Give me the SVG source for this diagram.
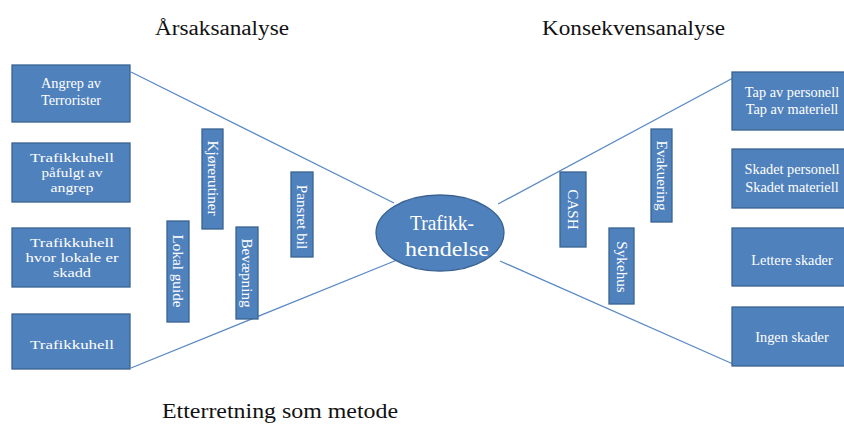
<svg xmlns="http://www.w3.org/2000/svg" width="844" height="424" viewBox="0 0 844 424">
<style>
.box{fill:#4f81bd;stroke:#3a6391;stroke-width:1.3}
.t{font-family:"Liberation Serif","Times New Roman",serif;font-size:14.3px;fill:#fff;text-anchor:middle}
.tl{font-family:"Liberation Serif","Times New Roman",serif;font-size:13.5px;fill:#fff;text-anchor:middle}
.tv{font-family:"Liberation Serif","Times New Roman",serif;font-size:15.2px;fill:#fff;text-anchor:middle}
.title{font-family:"Liberation Serif",serif;font-size:20px;fill:#111}
.line{stroke:#5b8ac4;stroke-width:1.3;fill:none}
.et{font-family:"Liberation Serif",serif;font-size:22px;fill:#fff;text-anchor:middle}
</style>
<rect width="844" height="424" fill="#fff"/>
<text class="title" x="155" y="35" textLength="134" lengthAdjust="spacingAndGlyphs">Årsaksanalyse</text>
<text class="title" x="542" y="35" textLength="183" lengthAdjust="spacingAndGlyphs">Konsekvensanalyse</text>
<text class="title" x="162" y="418" textLength="236" lengthAdjust="spacingAndGlyphs">Etterretning som metode</text>
<g id="connectors">
<line class="line" x1="131" y1="72" x2="394" y2="203"/>
<line class="line" x1="131" y1="368" x2="397" y2="260"/>
<line class="line" x1="498" y1="204" x2="733" y2="78"/>
<line class="line" x1="500" y1="261" x2="733" y2="364"/>
</g>
<g id="center">
<ellipse cx="440" cy="233" rx="64" ry="38" fill="#4f81bd" stroke="#3a6391" stroke-width="1.3"/>
<text class="et" x="442" y="230" textLength="64" lengthAdjust="spacingAndGlyphs">Trafikk-</text>
<text class="et" x="447" y="256" textLength="84" lengthAdjust="spacingAndGlyphs">hendelse</text>
</g>
<g id="l1"><rect class="box" x="12" y="65" width="118" height="57"/><text class="t" x="71" y="88">Angrep av</text><text class="t" x="71" y="105">Terrorister</text></g>
<g id="l2"><rect class="box" x="12" y="143" width="118" height="59"/><text class="tl" x="72" y="162" textLength="84" lengthAdjust="spacingAndGlyphs">Trafikkuhell</text><text class="tl" x="72" y="177" textLength="61" lengthAdjust="spacingAndGlyphs">påfulgt av</text><text class="tl" x="72" y="192" textLength="43" lengthAdjust="spacingAndGlyphs">angrep</text></g>
<g id="l3"><rect class="box" x="12" y="228" width="118" height="59"/><text class="tl" x="72" y="247" textLength="84" lengthAdjust="spacingAndGlyphs">Trafikkuhell</text><text class="tl" x="72" y="262" textLength="93" lengthAdjust="spacingAndGlyphs">hvor lokale er</text><text class="tl" x="72" y="277" textLength="38" lengthAdjust="spacingAndGlyphs">skadd</text></g>
<g id="l4"><rect class="box" x="12" y="314" width="118" height="55"/><text class="tl" x="72" y="349" textLength="84" lengthAdjust="spacingAndGlyphs">Trafikkuhell</text></g>
<g id="kjorerutiner"><rect class="box" x="202" y="129" width="21" height="100"/><text class="tv" transform="translate(212.5,178) rotate(90)" y="5">Kjørerutiner</text></g>
<g id="lokalguide"><rect class="box" x="167" y="221" width="22" height="101"/><text class="tv" transform="translate(178,271) rotate(90)" y="5">Lokal guide</text></g>
<g id="bevaepning"><rect class="box" x="236" y="227" width="22" height="92"/><text class="tv" transform="translate(247,273) rotate(90)" y="5">Bevæpning</text></g>
<g id="pansret"><rect class="box" x="291" y="172" width="22" height="85"/><text class="tv" transform="translate(302,217) rotate(90)" y="5">Pansret bil</text></g>
<g id="cash"><rect class="box" x="560" y="172" width="26" height="75"/><text class="tv" transform="translate(573,209.5) rotate(90)" y="5">CASH</text></g>
<g id="evakuering"><rect class="box" x="651" y="129" width="21" height="93"/><text class="tv" transform="translate(661.5,175.5) rotate(90)" y="5">Evakuering</text></g>
<g id="sykehus"><rect class="box" x="609" y="228" width="25" height="76"/><text class="tv" transform="translate(621.5,267) rotate(90)" y="5">Sykehus</text></g>
<g id="r1"><rect class="box" x="732" y="72" width="120" height="58"/><text class="t" x="792" y="97">Tap av personell</text><text class="t" x="792" y="114">Tap av materiell</text></g>
<g id="r2"><rect class="box" x="732" y="149" width="120" height="59"/><text class="t" x="792" y="174">Skadet personell</text><text class="t" x="792" y="192">Skadet materiell</text></g>
<g id="r3"><rect class="box" x="732" y="228" width="120" height="58"/><text class="t" x="792" y="265">Lettere skader</text></g>
<g id="r4"><rect class="box" x="732" y="307" width="120" height="59"/><text class="t" x="792" y="342">Ingen skader</text></g>
</svg>
